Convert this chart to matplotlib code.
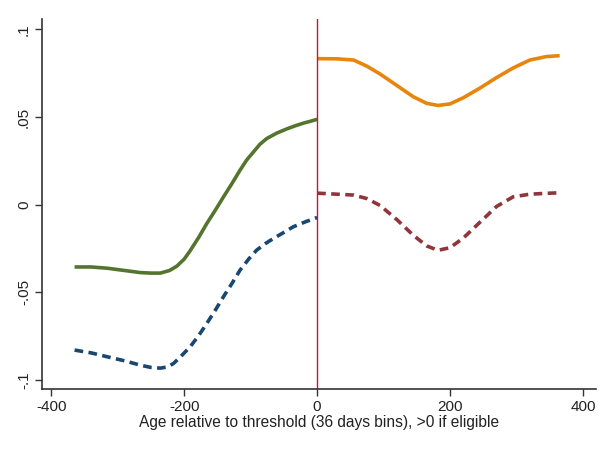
import matplotlib
matplotlib.use("Agg")
import matplotlib.pyplot as plt

plt.rcParams['font.family'] = ['Liberation Sans', 'DejaVu Sans']

# Left of threshold (not eligible)
x_left_solid = [-365, -340, -316, -290, -266, -250, -236, -222, -211, -200, -191, -178, -166,
                -153, -141, -128, -116, -106, -96, -86, -76, -61, -46, -33, -20, -10, 0]
y_left_solid = [-0.0355, -0.0355, -0.0362, -0.0375, -0.0387, -0.0390, -0.0390, -0.0375, -0.0350,
                -0.0310, -0.0262, -0.0185, -0.0107, -0.0030, 0.0044, 0.0122, 0.0197, 0.0255,
                0.0300, 0.0345, 0.0377, 0.0408, 0.0432, 0.0450, 0.0466, 0.0476, 0.0487]

x_left_dash = [-365, -340, -316, -290, -266, -250, -236, -225, -216, -205, -191, -178, -166,
               -153, -141, -128, -116, -103, -91, -78, -66, -51, -36, -18, 0]
y_left_dash = [-0.0829, -0.0845, -0.0867, -0.0890, -0.0915, -0.0928, -0.0932, -0.0925, -0.0905,
               -0.0865, -0.0810, -0.0745, -0.0677, -0.0600, -0.0525, -0.0448, -0.0373, -0.0310,
               -0.0259, -0.0222, -0.0193, -0.0160, -0.0126, -0.0098, -0.0073]

# Right of threshold (eligible)
x_right = [0, 30, 55, 75, 95, 120, 145, 165, 182, 200, 220, 245, 270, 295, 320, 345, 365]
y_right_solid = [0.0833, 0.0832, 0.0825, 0.0790, 0.0745, 0.0680, 0.0615, 0.0578, 0.0566, 0.0575,
                 0.0610, 0.0665, 0.0725, 0.0780, 0.0825, 0.0845, 0.0850]
y_right_dash = [0.0066, 0.0060, 0.0055, 0.0035, -0.0005, -0.0085, -0.0175, -0.0235, -0.0260,
                -0.0245, -0.0190, -0.0100, -0.0010, 0.0045, 0.0060, 0.0065, 0.0068]

x_ticks = [-400, -200, 0, 200, 400]
y_ticks = [-0.1, -0.05, 0, 0.05, 0.1]
y_tick_labels = ['-.1', '-.05', '0', '.05', '.1']
x_label = 'Age relative to threshold (36 days bins), >0 if eligible'

fig = plt.figure(figsize=(6.09, 4.49), dpi=100)
ax = fig.add_axes([0.069, 0.134, 0.910, 0.824])

lw = 2.6
ax.plot(x_left_solid, y_left_solid, color='#55752f', lw=lw, solid_capstyle='butt')
ax.plot(x_left_dash, y_left_dash, color='#1a476f', lw=lw, dashes=(2.4, 1.5), dash_capstyle='butt')
ax.plot(x_right, y_right_solid, color='#e8850c', lw=lw, solid_capstyle='butt')
ax.plot(x_right, y_right_dash, color='#90353b', lw=lw, dashes=(2.4, 1.5), dash_capstyle='butt')

ax.axvline(0, color='#c8143c', lw=1.0)

ax.set_xlim(-414, 420)
ax.set_ylim(-0.105, 0.106)

ax.set_xticks(x_ticks)
ax.set_xticklabels([str(v) for v in x_ticks])
ax.set_yticks(y_ticks)
ax.set_yticklabels(y_tick_labels, rotation=90, va='center')

for side in ('top', 'right'):
    ax.spines[side].set_visible(False)
for side in ('left', 'bottom'):
    ax.spines[side].set_color('#333333')
    ax.spines[side].set_linewidth(1.2)

ax.tick_params(axis='both', direction='out', length=5, width=1.0, color='#333333',
               labelsize=11, labelcolor='#222222', pad=3)
ax.set_xlabel(x_label, fontsize=11.2, color='#222222', labelpad=0.5)

fig.savefig('out.png', dpi=100)
